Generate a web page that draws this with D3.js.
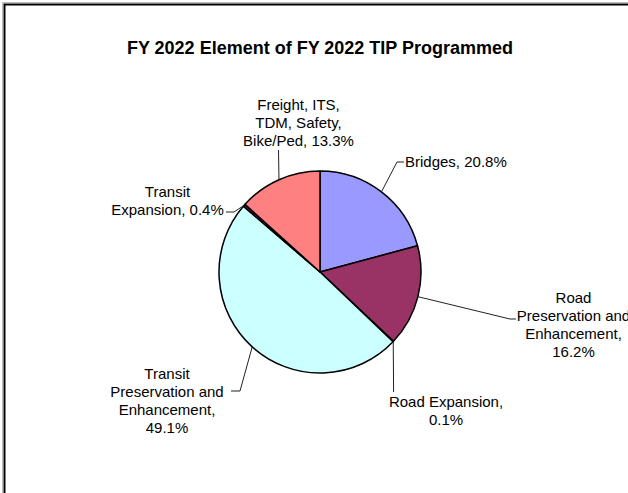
<!DOCTYPE html>
<html>
<head>
<meta charset="utf-8">
<script src="https://cdn.jsdelivr.net/npm/d3@7"></script>
<style>
  html, body { margin: 0; padding: 0; background: #fff; }
  svg { display: block; font-family: Arial, "Liberation Sans", sans-serif; }
</style>
</head>
<body>
<svg id="chart" width="628" height="493"></svg>
<script>
// --- data ---
const categories = [
  'Bridges',
  'Road Preservation and Enhancement',
  'Road Expansion',
  'Transit Preservation and Enhancement',
  'Transit Expansion',
  'Freight, ITS, TDM, Safety, Bike/Ped'
];
const shares = [20.8, 16.2, 0.1, 49.1, 0.4, 13.3];
const sliceColors = ['#9999ff', '#993366', '#ffffcc', '#ccffff', '#660066', '#ff8080'];
const labelLines = [
  ['Bridges, 20.8%'],
  ['Road', 'Preservation and', 'Enhancement,', '16.2%'],
  ['Road Expansion,', '0.1%'],
  ['Transit', 'Preservation and', 'Enhancement,', '49.1%'],
  ['Transit', 'Expansion, 0.4%'],
  ['Freight, ITS,', 'TDM, Safety,', 'Bike/Ped, 13.3%']
];

// label layout: text anchor point, first baseline, and leader bend points
const labelLayout = [
  { x: 405, y: 167, anchor: 'start', leader: [[397, 162], [404, 162]] },
  { x: 573.5, y: 303, anchor: 'middle', leader: [[510, 319], [516, 319]] },
  { x: 446, y: 407, anchor: 'middle', leader: [[393.6, 392]] },
  { x: 167, y: 379, anchor: 'middle', leader: [[240, 391], [231, 391]] },
  { x: 167.5, y: 197, anchor: 'middle', leader: [[234, 212], [226, 212]] },
  { x: 298.5, y: 110, anchor: 'middle', leader: [[278.5, 150]] }
];

const svg = d3.select('#chart');
const W = 628, H = 493;
const cx = 320, cy = 272, R = 101;
const lineH = 18;

// frame (only left/top visible in the crop)
svg.append('rect')
  .attr('x', 2.5).attr('y', 2.5).attr('width', W + 20).attr('height', H + 20)
  .attr('fill', 'none').attr('stroke', '#bbb').attr('stroke-width', 1);
svg.append('rect')
  .attr('x', 4.5).attr('y', 4.5).attr('width', W + 20).attr('height', H + 20)
  .attr('fill', 'none').attr('stroke', '#000').attr('stroke-width', 2);

svg.append('text')
  .attr('x', cx).attr('y', 54)
  .attr('text-anchor', 'middle')
  .attr('font-size', 18).attr('font-weight', 'bold')
  .attr('fill', '#000')
  .text('FY 2022 Element of FY 2022 TIP Programmed');

const pie = d3.pie().sort(null).value(d => d);
const arcs = pie(shares);
const arc = d3.arc().innerRadius(0).outerRadius(R);
const edgeArc = d3.arc().innerRadius(R).outerRadius(R);

const g = svg.append('g').attr('transform', `translate(${cx},${cy})`);

g.selectAll('path')
  .data(arcs)
  .join('path')
  .attr('d', arc)
  .attr('fill', (d, i) => sliceColors[i])
  .attr('stroke', '#000')
  .attr('stroke-width', 1.5)
  .attr('stroke-linejoin', 'round');

// leaders
const line = d3.line();
arcs.forEach((d, i) => {
  const [px, py] = edgeArc.centroid(d);
  const pts = [[cx + px, cy + py]].concat(labelLayout[i].leader);
  svg.append('path')
    .attr('d', line(pts))
    .attr('fill', 'none')
    .attr('stroke', '#222')
    .attr('stroke-width', 1);
});

// labels
labelLines.forEach((lines, i) => {
  const lay = labelLayout[i];
  const t = svg.append('text')
    .attr('text-anchor', lay.anchor)
    .attr('font-size', 15)
    .attr('fill', '#000');
  lines.forEach((s, j) => {
    t.append('tspan').attr('x', lay.x).attr('y', lay.y + j * lineH).text(s);
  });
});
</script>
</body>
</html>
